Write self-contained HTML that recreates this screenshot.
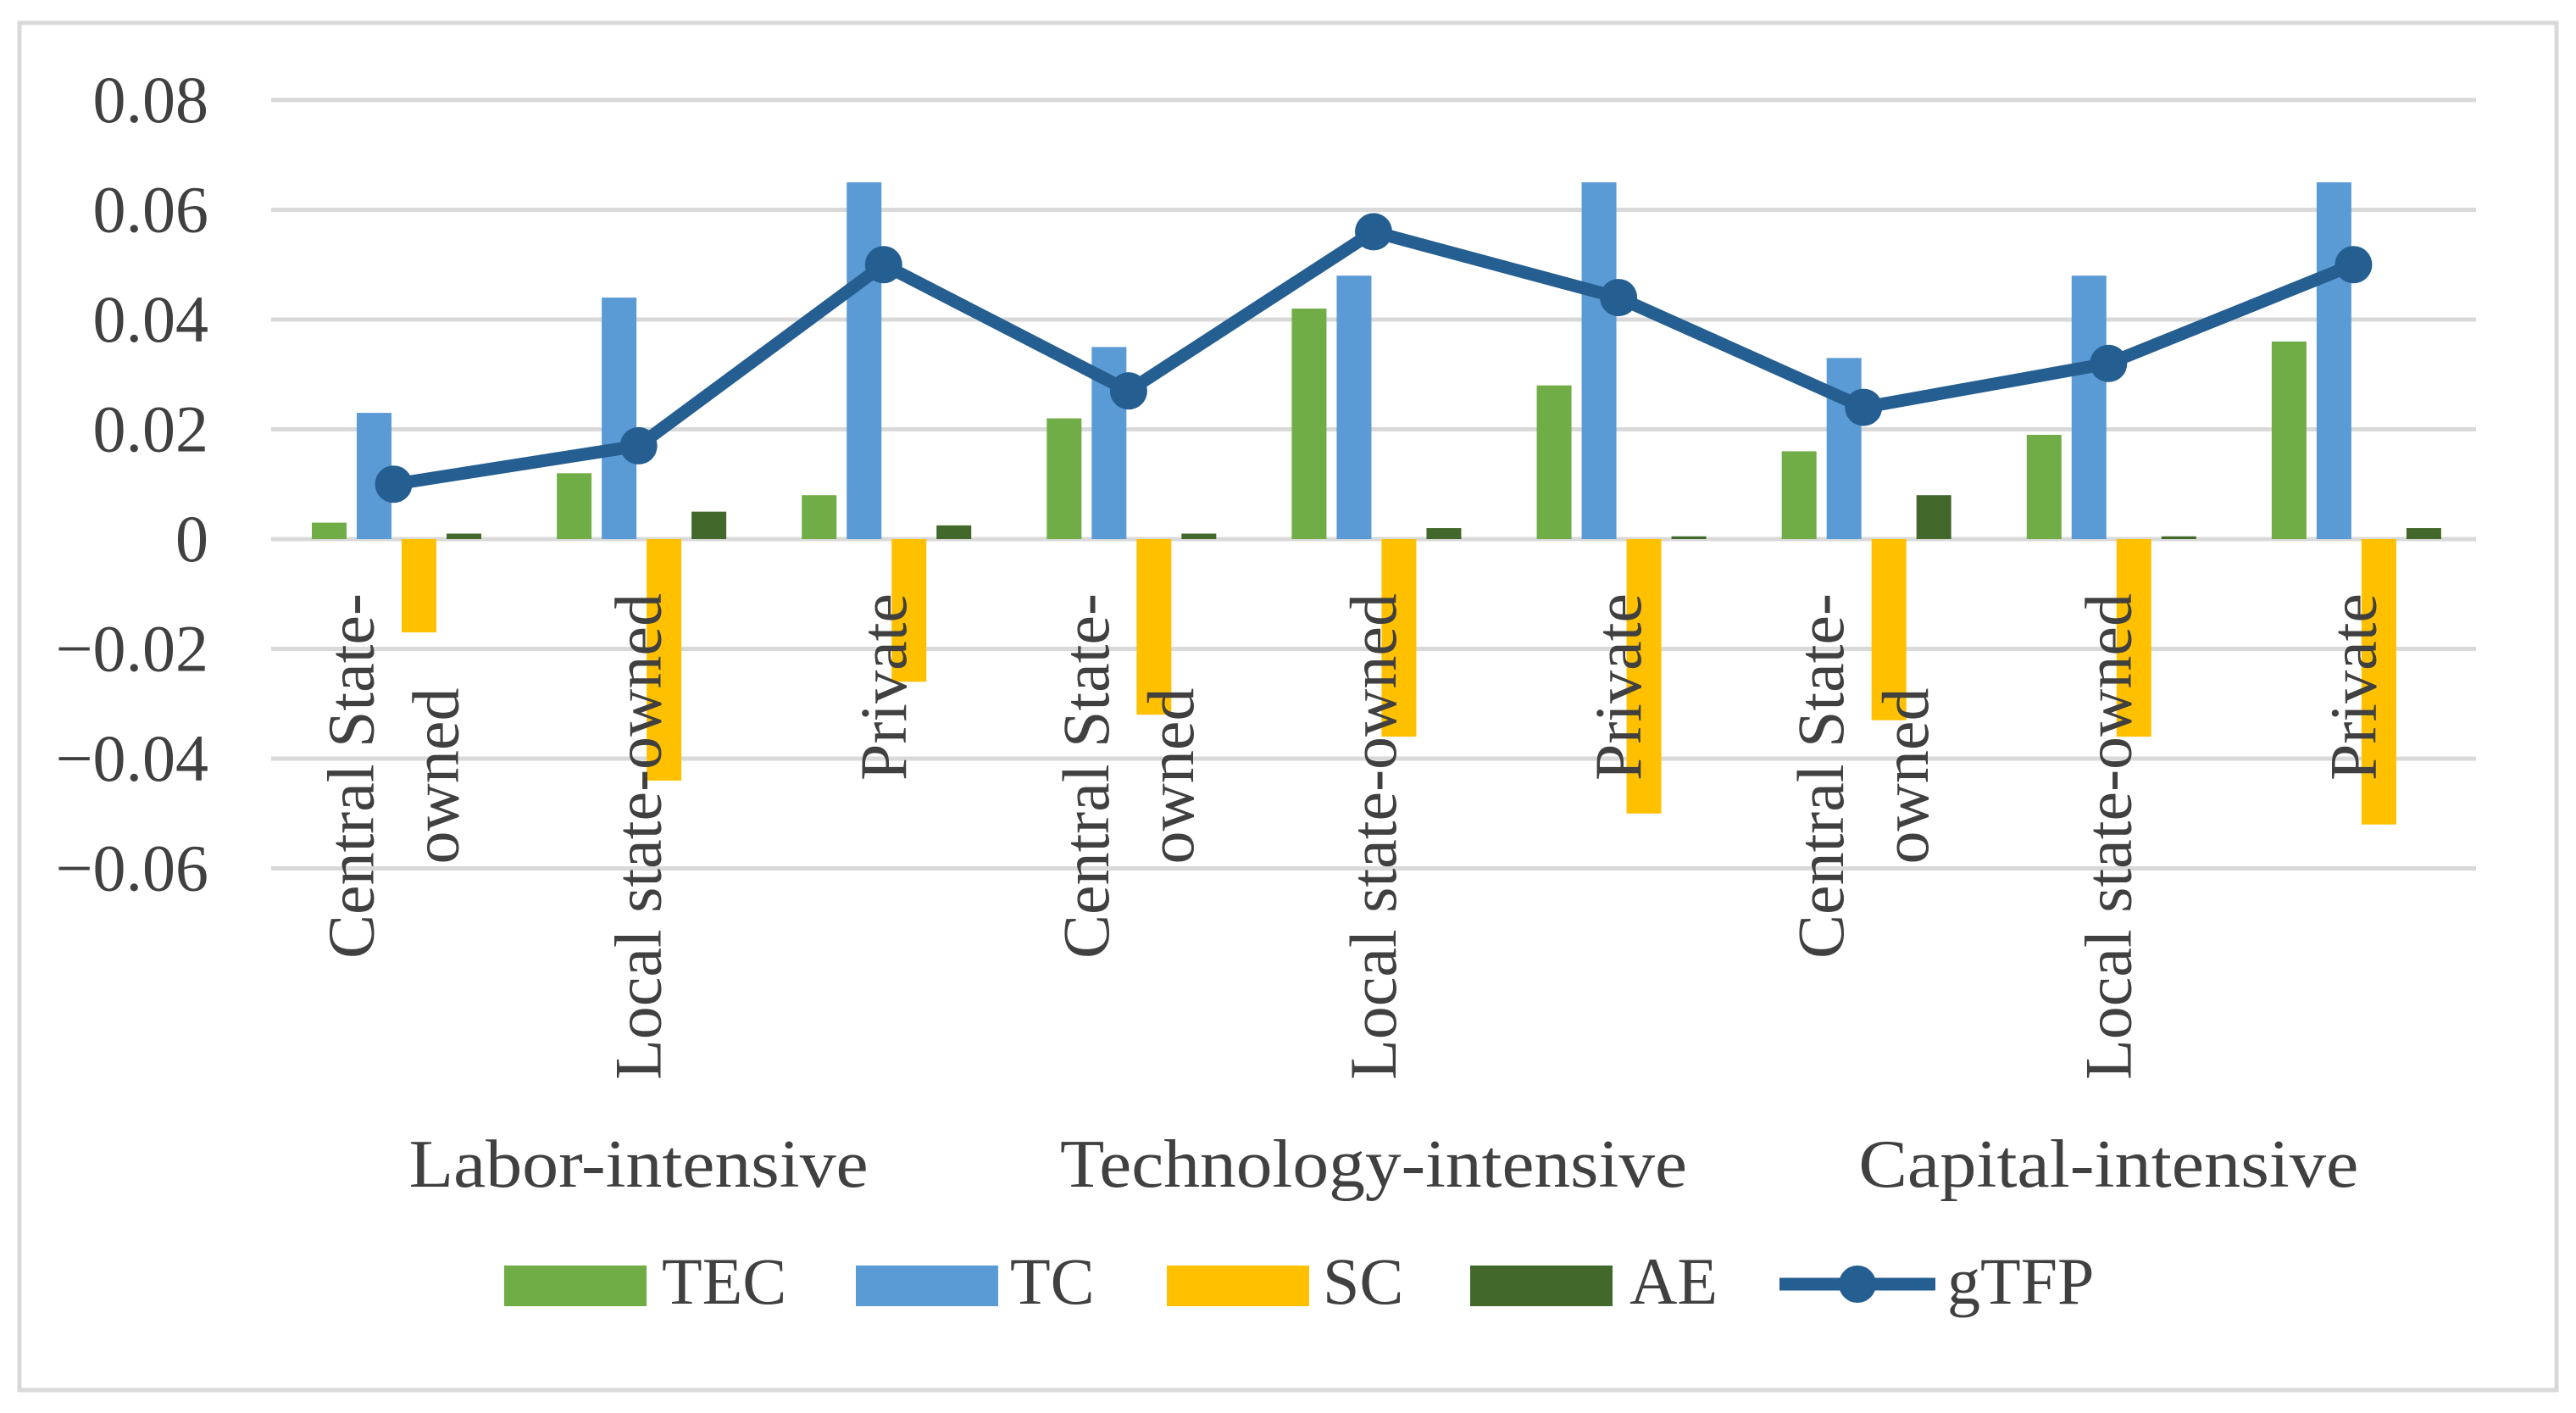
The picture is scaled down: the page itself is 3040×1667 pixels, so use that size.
<!DOCTYPE html>
<html><head><meta charset="utf-8"><style>
html,body{margin:0;padding:0;background:#fff;}
svg{display:block;font-family:"Liberation Serif",serif;}
</style></head><body>
<svg id="chart" width="3040" height="1667" viewBox="0 0 3040 1667">
<rect x="23" y="27" width="2994" height="1613" fill="#fff" stroke="#d9d9d9" stroke-width="5"/>
<g id="grid"></g>
<g id="yticks"></g>
<g id="bars"></g>
<g id="line"></g>
<g id="xlabels"></g>
<g id="groups"></g>
<g id="legend"></g>
</svg>
<script>
const categories = [["Central State-","owned"],["Local state-owned"],["Private"],["Central State-","owned"],["Local state-owned"],["Private"],["Central State-","owned"],["Local state-owned"],["Private"]];
const groups = ["Labor-intensive","Technology-intensive","Capital-intensive"];
const TEC = [0.003,0.012,0.008,0.022,0.042,0.028,0.016,0.019,0.036];
const TC = [0.023,0.044,0.065,0.035,0.048,0.065,0.033,0.048,0.065];
const SC = [-0.017,-0.044,-0.026,-0.032,-0.036,-0.050,-0.033,-0.036,-0.052];
const AE = [0.001,0.005,0.0025,0.001,0.002,0.0005,0.008,0.0005,0.002];
const gTFP = [0.010,0.017,0.050,0.027,0.056,0.044,0.024,0.032,0.050];
const yTicks = [0.08,0.06,0.04,0.02,0,-0.02,-0.04,-0.06];
const yTickLabels = ["0.08","0.06","0.04","0.02","0","\u22120.02","\u22120.04","\u22120.06"];

const NS="http://www.w3.org/2000/svg";
const X0=320,X1=2922,Y0=636,PX=129.5/0.02;
const cw=(X1-X0)/categories.length;
const y=v=>Y0-v*PX;
const catX=i=>X0+i*cw;
const TXT="#404040";
function mk(t,a,p){const e=document.createElementNS(NS,t);for(const k in a)e.setAttribute(k,a[k]);p.appendChild(e);return e;}
const G=id=>document.getElementById(id);

yTicks.forEach((v,i)=>{
  const l=mk('line',{x1:X0,x2:X1,y1:y(v),y2:y(v),stroke:'#d9d9d9','stroke-width':5},G('grid'));
  
  
  const t=mk('text',{x:246,y:y(v)+26,'text-anchor':'end','font-size':78,fill:TXT},G('yticks'));
  t.textContent=yTickLabels[i];
  
  
});

const series=[[TEC,'#70AD47','tec'],[TC,'#5B9BD5','tc'],[SC,'#FFC000','sc'],[AE,'#43682B','ae']];
series.forEach((s,si)=>{
  s[0].forEach((v,i)=>{
    const x=catX(i)+48+si*53;
    const r=mk('rect',{x:x,y:Math.min(y(v),Y0),width:41,height:Math.abs(y(v)-Y0),fill:s[1]},G('bars'));
    
    
  });
});

const pts=gTFP.map((v,i)=>[catX(i)+cw/2,y(v)]);
const pl=mk('polyline',{points:pts.map(p=>p.join(',')).join(' '),fill:'none',stroke:'#255E91','stroke-width':15,'stroke-linejoin':'round'},G('line'));


pts.forEach(p=>{
  const c=mk('circle',{cx:p[0],cy:p[1],r:22,fill:'#255E91'},G('line'));
  
  
});

const TOP=700,LH=100;
categories.forEach((lines,i)=>{
  const cx=catX(i)+cw/2;
  const n=lines.length;
  const g=mk('g',{},G('xlabels'));
  
  
  let len0=0;
  lines.forEach((ln,j)=>{
    const lx=cx+(j-(n-1)/2)*LH+26;
    const t=mk('text',{'font-size':78,fill:TXT},g);
    t.textContent=ln;
    if(j===0){
      t.setAttribute('text-anchor','end');
      t.setAttribute('transform','translate('+lx+','+TOP+') rotate(-90)');
      len0=t.getComputedTextLength();
    }else{
      t.setAttribute('text-anchor','middle');
      t.setAttribute('transform','translate('+lx+','+(TOP+len0/2)+') rotate(-90)');
    }
  });
});

const groupLens=[542,740,590];
groups.forEach((gname,i)=>{
  const t=mk('text',{x:X0+(i*3+1.5)*cw,y:1400,'text-anchor':'middle','font-size':80,fill:TXT,textLength:groupLens[i],lengthAdjust:'spacingAndGlyphs'},G('groups'));
  t.textContent=gname;
  
  
});

const leg=[['TEC','#70AD47',595,781],['TC','#5B9BD5',1010,1192],['SC','#FFC000',1377,1561],['AE','#43682B',1735,1923]];
leg.forEach(l=>{
  const r=mk('rect',{x:l[2],y:1493,width:168,height:48,fill:l[1]},G('legend'));
  
  
  const t=mk('text',{x:l[3],y:1538,'font-size':78,fill:TXT},G('legend'));
  t.textContent=l[0];
  
  
});
const ll=mk('line',{x1:2100,x2:2284,y1:1515,y2:1515,stroke:'#255E91','stroke-width':15},G('legend'));


const lc=mk('circle',{cx:2192,cy:1515,r:22,fill:'#255E91'},G('legend'));


const lt=mk('text',{x:2298,y:1538,'font-size':78,fill:TXT},G('legend'));
lt.textContent='gTFP';


</script>
</body></html>
